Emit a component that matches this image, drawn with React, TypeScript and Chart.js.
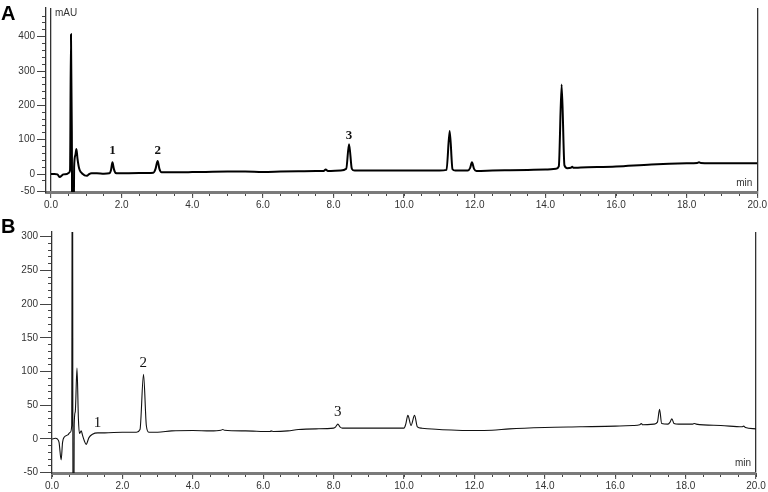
import React, { useEffect, useRef } from 'react';
import { Chart, registerables } from 'chart.js';

Chart.register(...registerables);

// ---------- Panel A data (retention time in min, signal in mAU) ----------
const A_T = [0, 0.1, 0.18, 0.25, 0.3, 0.35, 0.45, 0.5, 0.54, 0.566, 0.59, 0.605, 0.635, 0.655, 0.69, 0.72, 0.75, 0.8, 0.85, 0.9, 0.95, 1.02, 1.08, 1.15, 1.3, 1.5, 1.65, 1.7, 1.74, 1.78, 1.83, 1.9, 2.5, 2.9, 2.96, 3.02, 3.07, 3.13, 3.5, 4, 5, 5.5, 6, 6.5, 7, 7.5, 7.72, 7.78, 7.84, 8.2, 8.36, 8.44, 8.52, 8.6, 9, 10, 10.5, 11, 11.2, 11.29, 11.37, 11.45, 11.8, 11.87, 11.92, 11.98, 12.05, 12.5, 13, 13.5, 14, 14.3, 14.38, 14.46, 14.54, 14.62, 14.72, 14.76, 14.8, 15, 16, 17, 18, 18.3, 18.35, 18.4, 19, 20];
const A_V = [0, 0, -1, -9, -5, -1, 0, 3, 12, 407, 120, -250, -250, 20, 55, 73, 45, 15, 5, 0, -4, -5, 0, 2, 2, 1, 2, 12, 34, 15, 3, 2, 3, 4, 15, 38, 15, 5, 5, 5.5, 7, 7, 6, 7, 8, 9, 9, 13, 9, 10, 15, 87, 15, 10, 10, 10, 10, 10, 12, 125, 14, 10, 10, 18, 34, 15, 9, 10, 11, 12, 13, 15, 22, 261, 25, 17, 18, 21, 18, 19, 22, 28, 31, 32, 34, 32, 31, 31];

// ---------- Panel B data ----------
const B_T = [0, 0.1, 0.15, 0.2, 0.26, 0.3, 0.35, 0.45, 0.52, 0.56, 0.58, 0.6, 0.615, 0.63, 0.66, 0.71, 0.75, 0.78, 0.83, 0.87, 0.92, 0.97, 1.05, 1.15, 1.3, 1.5, 2.0, 2.4, 2.5, 2.6, 2.68, 2.75, 3.0, 3.4, 4, 4.5, 4.8, 4.85, 4.9, 5.5, 6.2, 6.22, 6.3, 6.7, 7, 7.5, 8.0, 8.06, 8.12, 8.18, 8.25, 9, 10.0, 10.05, 10.11, 10.2, 10.3, 10.38, 10.5, 11, 11.5, 12, 12.5, 13, 14, 15, 16, 16.5, 16.7, 16.74, 16.78, 17.1, 17.2, 17.26, 17.32, 17.5, 17.56, 17.61, 17.67, 17.8, 18.2, 18.25, 18.3, 19, 19.6, 19.65, 19.7, 20];
const B_V = [0, 1, 0, -5, -31, -5, 3, 6, 10, 20, 600, -300, -300, 20, 40, 105, 30, 8, 12, 5, -3, -8, 2, 7, 9, 9, 10, 10, 14, 96, 20, 10, 10, 12, 12.5, 12, 13, 14, 13, 12, 11, 12, 11, 12, 14, 15, 16, 18, 22, 18, 16, 16, 16, 22, 35, 20, 35, 18, 16, 14, 13, 12.5, 13, 15, 17, 18, 19, 20, 21, 23, 21, 22, 25, 44, 23, 22, 25, 30, 23, 22, 22, 23, 22, 20, 18, 19, 17, 15];

// ---------- Axes / labels ----------
const X_MAJOR = [0, 2, 4, 6, 8, 10, 12, 14, 16, 18, 20];
const A_Y_MAJOR = [-50, 0, 100, 200, 300, 400];
const B_Y_MAJOR = [-50, 0, 50, 100, 150, 200, 250, 300];

const A_PEAK_LABELS = ['1', '2', '3'];
const A_PEAK_T = [1.74, 3.02, 8.44];
const A_PEAK_V = [67, 67, 113];

const B_PEAK_LABELS = ['1', '2', '3'];
const B_PEAK_T = [1.29, 2.59, 8.12];
const B_PEAK_V = [23, 112, 40];

const TICK_FONT = { family: '"Liberation Sans Narrow", "Liberation Sans", Arial, sans-serif', size: 10 };
const TEXT_FONT = '10px "Liberation Sans", Arial, sans-serif';

type PanelCfg = {
  t: number[];
  v: number[];
  letter: string;
  yMajor: number[];
  yMinorStep: number;
  xMin: number;
  yMin: number;
  yMax: number;
  leftW: number;
  bottomH: number;
  padTop: number;
  padRight: number;
  lineW: number;
  lineColor: string;
  peakLabels: string[];
  peakT: number[];
  peakV: number[];
  peakFont: string;
  majorTickLen: number;
  letterBaseline: number;
  minOffset: number;
};

function textPlugin(cfg: PanelCfg) {
  return {
    id: 'panelText',
    afterDatasetsDraw(chart: any) {
      const ctx = chart.ctx as CanvasRenderingContext2D;
      const xs = chart.scales.x;
      const ys = chart.scales.y;
      const area = chart.chartArea;
      ctx.save();
      // peak labels
      ctx.fillStyle = '#111';
      ctx.font = cfg.peakFont;
      ctx.textAlign = 'center';
      ctx.textBaseline = 'middle';
      cfg.peakLabels.forEach((l, i) => {
        ctx.fillText(l, xs.getPixelForValue(cfg.peakT[i]), ys.getPixelForValue(cfg.peakV[i]));
      });
      // unit texts
      ctx.font = TEXT_FONT;
      ctx.fillStyle = '#333';
      if (cfg.letter === 'A') {
        ctx.textAlign = 'left';
        ctx.fillText('mAU', xs.getPixelForValue(0) + 4, area.top + 5);
      }
      ctx.textAlign = 'right';
      ctx.fillText('min', area.right - 5, area.bottom - cfg.minOffset);
      // panel letter
      ctx.font = 'bold 20px "Liberation Sans", Arial, sans-serif';
      ctx.fillStyle = '#000';
      ctx.textAlign = 'left';
      ctx.textBaseline = 'alphabetic';
      ctx.fillText(cfg.letter, 1, cfg.letterBaseline);
      ctx.restore();
    },
  };
}

function Panel({ cfg, top, height }: { cfg: PanelCfg; top: number; height: number }) {
  const ref = useRef<HTMLCanvasElement>(null);
  useEffect(() => {
    if (!ref.current) return;
    const tickColor = '#444';
    const xFilter = (s: any) => {
      s.ticks = s.ticks.filter((t: any) => t.value >= 0 && t.value <= 20);
    };
    const chart = new Chart(ref.current, {
      type: 'line',
      data: {
        datasets: [
          {
            data: cfg.t.map((t, i) => ({ x: t, y: cfg.v[i] })),
            borderColor: cfg.lineColor,
            borderWidth: cfg.lineW,
            pointRadius: 0,
            fill: false,
            cubicInterpolationMode: 'monotone',
            xAxisID: 'x',
            yAxisID: 'y',
          },
        ],
      },
      options: {
        animation: false,
        responsive: false,
        events: [],
        layout: { padding: { top: cfg.padTop, right: cfg.padRight, left: 0, bottom: 0 } },
        plugins: { legend: { display: false }, tooltip: { enabled: false } },
        scales: {
          x: {
            type: 'linear',
            position: 'bottom',
            weight: 1,
            min: cfg.xMin,
            max: 20,
            afterBuildTicks: (s: any) => {
              s.ticks = X_MAJOR.map((v) => ({ value: v }));
            },
            afterFit: (s: any) => {
              s.height = cfg.bottomH;
            },
            border: { display: true, color: '#7a7a7a', width: 3 },
            grid: {
              drawOnChartArea: true,
              color: (c: any) =>
                c.tick && ((cfg.letter === 'A' && c.tick.value === 0) || c.tick.value === 20)
                  ? '#333'
                  : 'rgba(0,0,0,0)',
              lineWidth: 1.3,
              tickColor,
              tickLength: 6,
              tickWidth: 1,
            },
            ticks: {
              callback: (v: any) => Number(v).toFixed(1),
              font: TICK_FONT,
              color: '#333',
              padding: 1,
              maxRotation: 0,
              autoSkip: false,
            },
          },
          xMinor: {
            type: 'linear',
            position: 'bottom',
            weight: 0,
            min: cfg.xMin,
            max: 20,
            afterBuildTicks: xFilter,
            afterFit: (s: any) => {
              s.height = 0;
            },
            border: { display: false },
            grid: { drawOnChartArea: false, tickLength: 4, tickColor, tickWidth: 1 },
            ticks: { stepSize: 0.5, display: false, autoSkip: false },
          },
          y: {
            type: 'linear',
            position: 'left',
            weight: 1,
            min: cfg.yMin,
            max: cfg.yMax,
            afterBuildTicks: (s: any) => {
              s.ticks = cfg.yMajor.map((v) => ({ value: v }));
            },
            afterFit: (s: any) => {
              s.width = cfg.leftW;
            },
            border: { display: true, color: '#333', width: 1.3 },
            grid: { drawOnChartArea: false, tickLength: cfg.majorTickLen, tickColor, tickWidth: 1 },
            ticks: { font: TICK_FONT, color: '#333', padding: 2, autoSkip: false },
          },
          yMinor: {
            type: 'linear',
            position: 'left',
            weight: 0,
            min: cfg.yMin,
            max: cfg.yMax,
            afterBuildTicks: (s: any) => {
              s.ticks = s.ticks.filter(
                (t: any) => t.value >= -50 && Math.abs(t.value % cfg.yMinorStep) < 1e-6
              );
            },
            afterFit: (s: any) => {
              s.width = 0;
            },
            border: { display: false },
            grid: { drawOnChartArea: false, tickLength: 4, tickColor, tickWidth: 1 },
            ticks: { stepSize: cfg.yMinorStep, display: false, autoSkip: false },
          },
        },
      } as any,
      plugins: [textPlugin(cfg)],
    });
    return () => chart.destroy();
  }, [cfg]);
  return (
    <canvas
      ref={ref}
      width={768}
      height={height}
      style={{ position: 'absolute', left: 0, top, width: 768, height }}
    />
  );
}

const PANEL_A: PanelCfg = {
  t: A_T,
  v: A_V,
  letter: 'A',
  yMajor: A_Y_MAJOR,
  yMinorStep: 20,
  xMin: -0.1414,
  yMin: -52.4,
  yMax: 483.6,
  leftW: 46,
  bottomH: 23,
  padTop: 8,
  padRight: 10,
  lineW: 2,
  lineColor: '#000',
  peakLabels: A_PEAK_LABELS,
  peakT: A_PEAK_T,
  peakV: A_PEAK_V,
  peakFont: 'bold 13px "Liberation Serif", "Times New Roman", serif',
  majorTickLen: 9,
  letterBaseline: 19.5,
  minOffset: 9,
};

const PANEL_B: PanelCfg = {
  t: B_T,
  v: B_V,
  letter: 'B',
  yMajor: B_Y_MAJOR,
  yMinorStep: 10,
  xMin: 0,
  yMin: -50.5,
  yMax: 307,
  leftW: 52,
  bottomH: 19,
  padTop: 17,
  padRight: 12,
  lineW: 1.1,
  lineColor: '#111',
  peakLabels: B_PEAK_LABELS,
  peakT: B_PEAK_T,
  peakV: B_PEAK_V,
  peakFont: '15px "Liberation Serif", "Times New Roman", serif',
  majorTickLen: 12,
  letterBaseline: 18,
  minOffset: 10,
};

export default function App() {
  return (
    <div
      style={{
        position: 'fixed',
        left: 0,
        top: 0,
        width: 768,
        height: 492,
        background: '#fff',
        overflow: 'hidden',
      }}
    >
      <Panel cfg={PANEL_A} top={0} height={215} />
      <Panel cfg={PANEL_B} top={215} height={277} />
    </div>
  );
}
